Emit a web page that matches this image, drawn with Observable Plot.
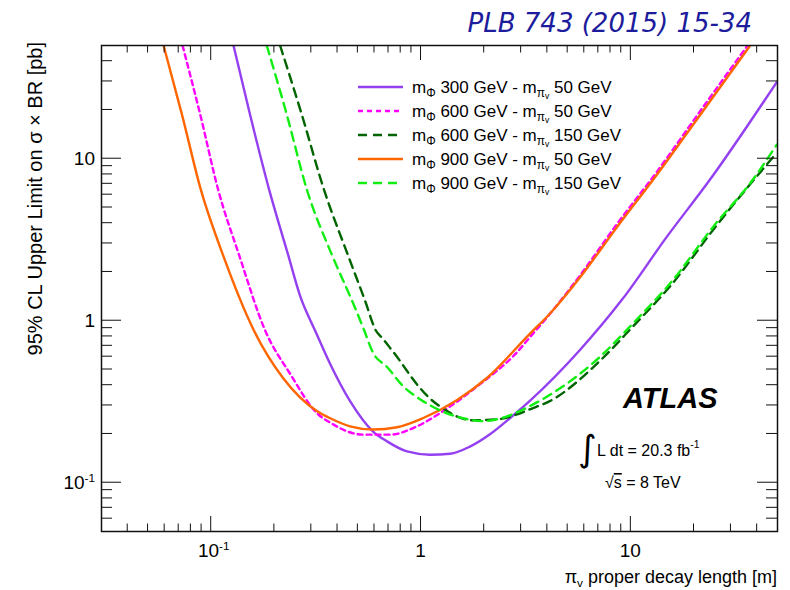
<!DOCTYPE html>
<html><head><meta charset="utf-8">
<script src="https://cdn.jsdelivr.net/npm/d3@7"></script>
<script src="https://cdn.jsdelivr.net/npm/@observablehq/plot@0.6"></script>
<style>body{margin:0;background:#fff} svg{display:block}</style>
</head><body><div id="chart"></div>
<script>
// ---- data (decay length [m], 95% CL limit [pb]) ----
const seriesLabels = [["300","50"],["600","50"],["600","150"],["900","50"],["900","150"]];
const seriesColors = ["#9440f0","#ff00ff","#006400","#ff6600","#11ee11"];
const seriesDashes = [null,"5,4","9,6",null,"9,6"];

const decay_300_50 = [0.1277,0.153,0.189,0.233,0.265,0.313,0.369,0.459,0.591,0.689,0.858,1.10,1.375,1.71,2.13,2.65,3.30,5.72,9.16,14.8,23.8,49.6];
const limit_300_50 = [50,18.8,6.42,2.53,1.43,0.867,0.541,0.319,0.207,0.180,0.156,0.149,0.151,0.167,0.199,0.250,0.32,0.66,1.37,3.28,7.41,29.7];

const decay_600_50 = [0.073,0.0886,0.108,0.136,0.181,0.238,0.32,0.369,0.53,0.711,0.957,1.27,1.91,2.87,3.3,4.11,5.72,8.58,13.3,21.3,36];
const limit_600_50 = [50,18.8,6.42,2.53,0.867,0.469,0.268,0.235,0.198,0.198,0.223,0.276,0.406,0.64,0.79,1.1,1.9,3.95,8.3,19.5,50];

const decay_600_150 = [0.213,0.270,0.345,0.449,0.541,0.610,0.652,0.712,0.794,0.858,0.989,1.10,1.27,1.48,1.77,2.30,2.87,3.30,4.11,7.12,10.2,15.8,24.6,49.6];
const limit_600_150 = [50,18.8,6.42,2.53,1.33,0.867,0.784,0.680,0.565,0.489,0.384,0.332,0.288,0.257,0.243,0.246,0.264,0.284,0.319,0.565,0.918,1.70,3.62,10.9];

const decay_900_50 = [0.0593,0.0725,0.0893,0.114,0.160,0.22,0.32,0.369,0.459,0.591,0.769,1.02,1.48,2.06,3.3,4.11,5.72,8.58,13.3,21.3,36.9];
const limit_900_50 = [50,18.8,6.42,2.53,0.867,0.443,0.276,0.250,0.223,0.213,0.22,0.25,0.323,0.443,0.83,1.105,1.85,3.78,7.96,18.5,49.6];

const decay_900_150 = [0.184,0.229,0.286,0.377,0.469,0.530,0.591,0.689,0.821,0.989,1.23,1.585,1.97,2.57,3.30,7.12,10.2,15.8,24.6,38.1,49.6];
const limit_900_150 = [50,18.8,6.42,2.53,1.33,0.905,0.633,0.518,0.395,0.328,0.280,0.250,0.240,0.257,0.297,0.598,0.958,1.77,3.78,7.41,12.2];

const xMajorTicks = [0.1, 1, 10];
const xMajorLabels = [["10","-1"],["1",""],["10",""]];
const xMinorTicks = [0.04,0.05,0.06,0.07,0.08,0.09,0.2,0.3,0.4,0.5,0.6,0.7,0.8,0.9,2,3,4,5,6,7,8,9,20,30,40];
const yMajorTicks = [0.1, 1, 10];
const yMajorLabels = [["10","-1"],["1",""],["10",""]];
const yMinorTicks = [0.06,0.07,0.08,0.09,0.2,0.3,0.4,0.5,0.6,0.7,0.8,0.9,2,3,4,5,6,7,8,9,20,30,40];

// ---- build table ----
const decays = [decay_300_50, decay_600_50, decay_600_150, decay_900_50, decay_900_150];
const limits = [limit_300_50, limit_600_50, limit_600_150, limit_900_50, limit_900_150];
const series = seriesLabels.map((lab, i) => ({
  key: `${lab[0]}-${lab[1]}`, color: seriesColors[i], dash: seriesDashes[i],
  rows: decays[i].map((d, j) => ({x: d, y: limits[i][j]}))
}));

const FONT = "'Liberation Sans', Arial, Helvetica, sans-serif";
const chart = Plot.plot({
  width: 790, height: 590,
  marginLeft: 101, marginRight: 13, marginTop: 45, marginBottom: 59,
  x: {type: "log", domain: [0.03, 50], axis: null},
  y: {type: "log", domain: [0.05, 50], axis: null},
  style: {fontFamily: FONT, background: "white", overflow: "visible"},
  marks: [
    ...series.map(s => Plot.line(s.rows, {
      x: "x", y: "y", stroke: s.color, strokeWidth: 2.4,
      strokeDasharray: s.dash, curve: "monotone-x", clip: true
    })),
    Plot.frame({stroke: "#111", strokeWidth: 1.5})
  ]
});
document.getElementById("chart").appendChild(chart);

const svg = d3.select(chart);
const xs = chart.scale("x"), ys = chart.scale("y");
const X = v => xs.apply(v), Y = v => ys.apply(v);
const [x0, x1] = xs.range, [y0, y1] = ys.range; // y0 bottom, y1 top
const g = svg.append("g").attr("font-family", FONT).attr("fill", "#000").attr("text-anchor", "start");

// ticks (inside the frame, ROOT style)
const tk = g.append("g").attr("stroke", "#111").attr("stroke-width", 1);
function xt(v, len) {
  tk.append("line").attr("x1", X(v)).attr("x2", X(v)).attr("y1", y0).attr("y2", y0 - len);
  tk.append("line").attr("x1", X(v)).attr("x2", X(v)).attr("y1", y1).attr("y2", y1 + len);
}
function yt(v, len) {
  tk.append("line").attr("y1", Y(v)).attr("y2", Y(v)).attr("x1", x0).attr("x2", x0 + len);
  tk.append("line").attr("y1", Y(v)).attr("y2", Y(v)).attr("x1", x1).attr("x2", x1 - len);
}
xMajorTicks.forEach(v => xt(v, 15));
xMinorTicks.forEach(v => xt(v, 7.5));
yMajorTicks.forEach(v => yt(v, 20));
yMinorTicks.forEach(v => yt(v, 11));

// tick labels
function pw(t, base, exp) {
  t.append("tspan").text(base);
  if (exp) t.append("tspan").attr("font-size", "62%").attr("dy", "-0.62em").text(exp);
}
xMajorTicks.forEach((v, i) => {
  const t = g.append("text").attr("x", X(v) + (xMajorLabels[i][1] ? 3 : 0)).attr("y", y0 + 26).attr("text-anchor", "middle").attr("font-size", 19);
  pw(t, ...xMajorLabels[i]);
});
yMajorTicks.forEach((v, i) => {
  const t = g.append("text").attr("x", x0 - 6).attr("y", Y(v) + 7).attr("text-anchor", "end").attr("font-size", 19);
  pw(t, ...yMajorLabels[i]);
});

// axis titles
const xtitle = g.append("text").attr("x", x1).attr("y", 583).attr("text-anchor", "end").attr("font-size", 18);
xtitle.append("tspan").text("π");
xtitle.append("tspan").attr("font-size", "65%").attr("dy", 4).text("v");
xtitle.append("tspan").attr("dy", -4).text(" proper decay length [m]");

g.append("text").attr("transform", `translate(42,${y1 - 3}) rotate(-90)`).attr("text-anchor", "end")
  .attr("font-size", 20).text("95% CL Upper Limit on σ × BR [pb]");

// legend
const legTop = 87, legStep = 24;
series.forEach((s, i) => {
  const yy = legTop + i * legStep;
  g.append("line").attr("x1", 358).attr("x2", 403).attr("y1", yy).attr("y2", yy)
    .attr("stroke", s.color).attr("stroke-width", 2.4).attr("stroke-dasharray", s.dash);
  const t = g.append("text").attr("x", 412).attr("y", yy + 6).attr("font-size", 17);
  t.append("tspan").text("m");
  t.append("tspan").attr("font-size", "70%").attr("dy", 4).text("Φ");
  t.append("tspan").attr("dy", -4).text(` ${seriesLabels[i][0]} GeV - m`);
  t.append("tspan").attr("font-size", "70%").attr("dy", 4).text("π");
  t.append("tspan").attr("font-size", "50%").attr("dy", 2).text("v");
  t.append("tspan").attr("dy", -6).text(` ${seriesLabels[i][1]} GeV`);
});

// ATLAS annotation
g.append("text").attr("x", 623).attr("y", 408).attr("font-size", 29).attr("font-weight", "bold")
  .attr("font-style", "italic").text("ATLAS");
g.append("text").attr("x", 578).attr("y", 461).attr("font-size", 36).attr("font-family", "'DejaVu Sans', sans-serif").text("∫");
const lum = g.append("text").attr("x", 597).attr("y", 456).attr("font-size", 16);
lum.append("tspan").text("L dt = 20.3 fb");
lum.append("tspan").attr("font-size", "65%").attr("dy", -8).text("-1");
const sq = g.append("text").attr("x", 605).attr("y", 488).attr("font-size", 16);
sq.append("tspan").text("√");
sq.append("tspan").attr("text-decoration", "overline").text("s");
sq.append("tspan").text(" = 8 TeV");

// journal reference
g.append("text").attr("x", 752).attr("y", 32).attr("text-anchor", "end")
  .attr("font-family", "'DejaVu Sans',sans-serif")
  .attr("font-style", "italic").attr("font-size", 26).attr("fill", "#1c1c9c").text("PLB 743 (2015) 15-34");
</script>
</body></html>
